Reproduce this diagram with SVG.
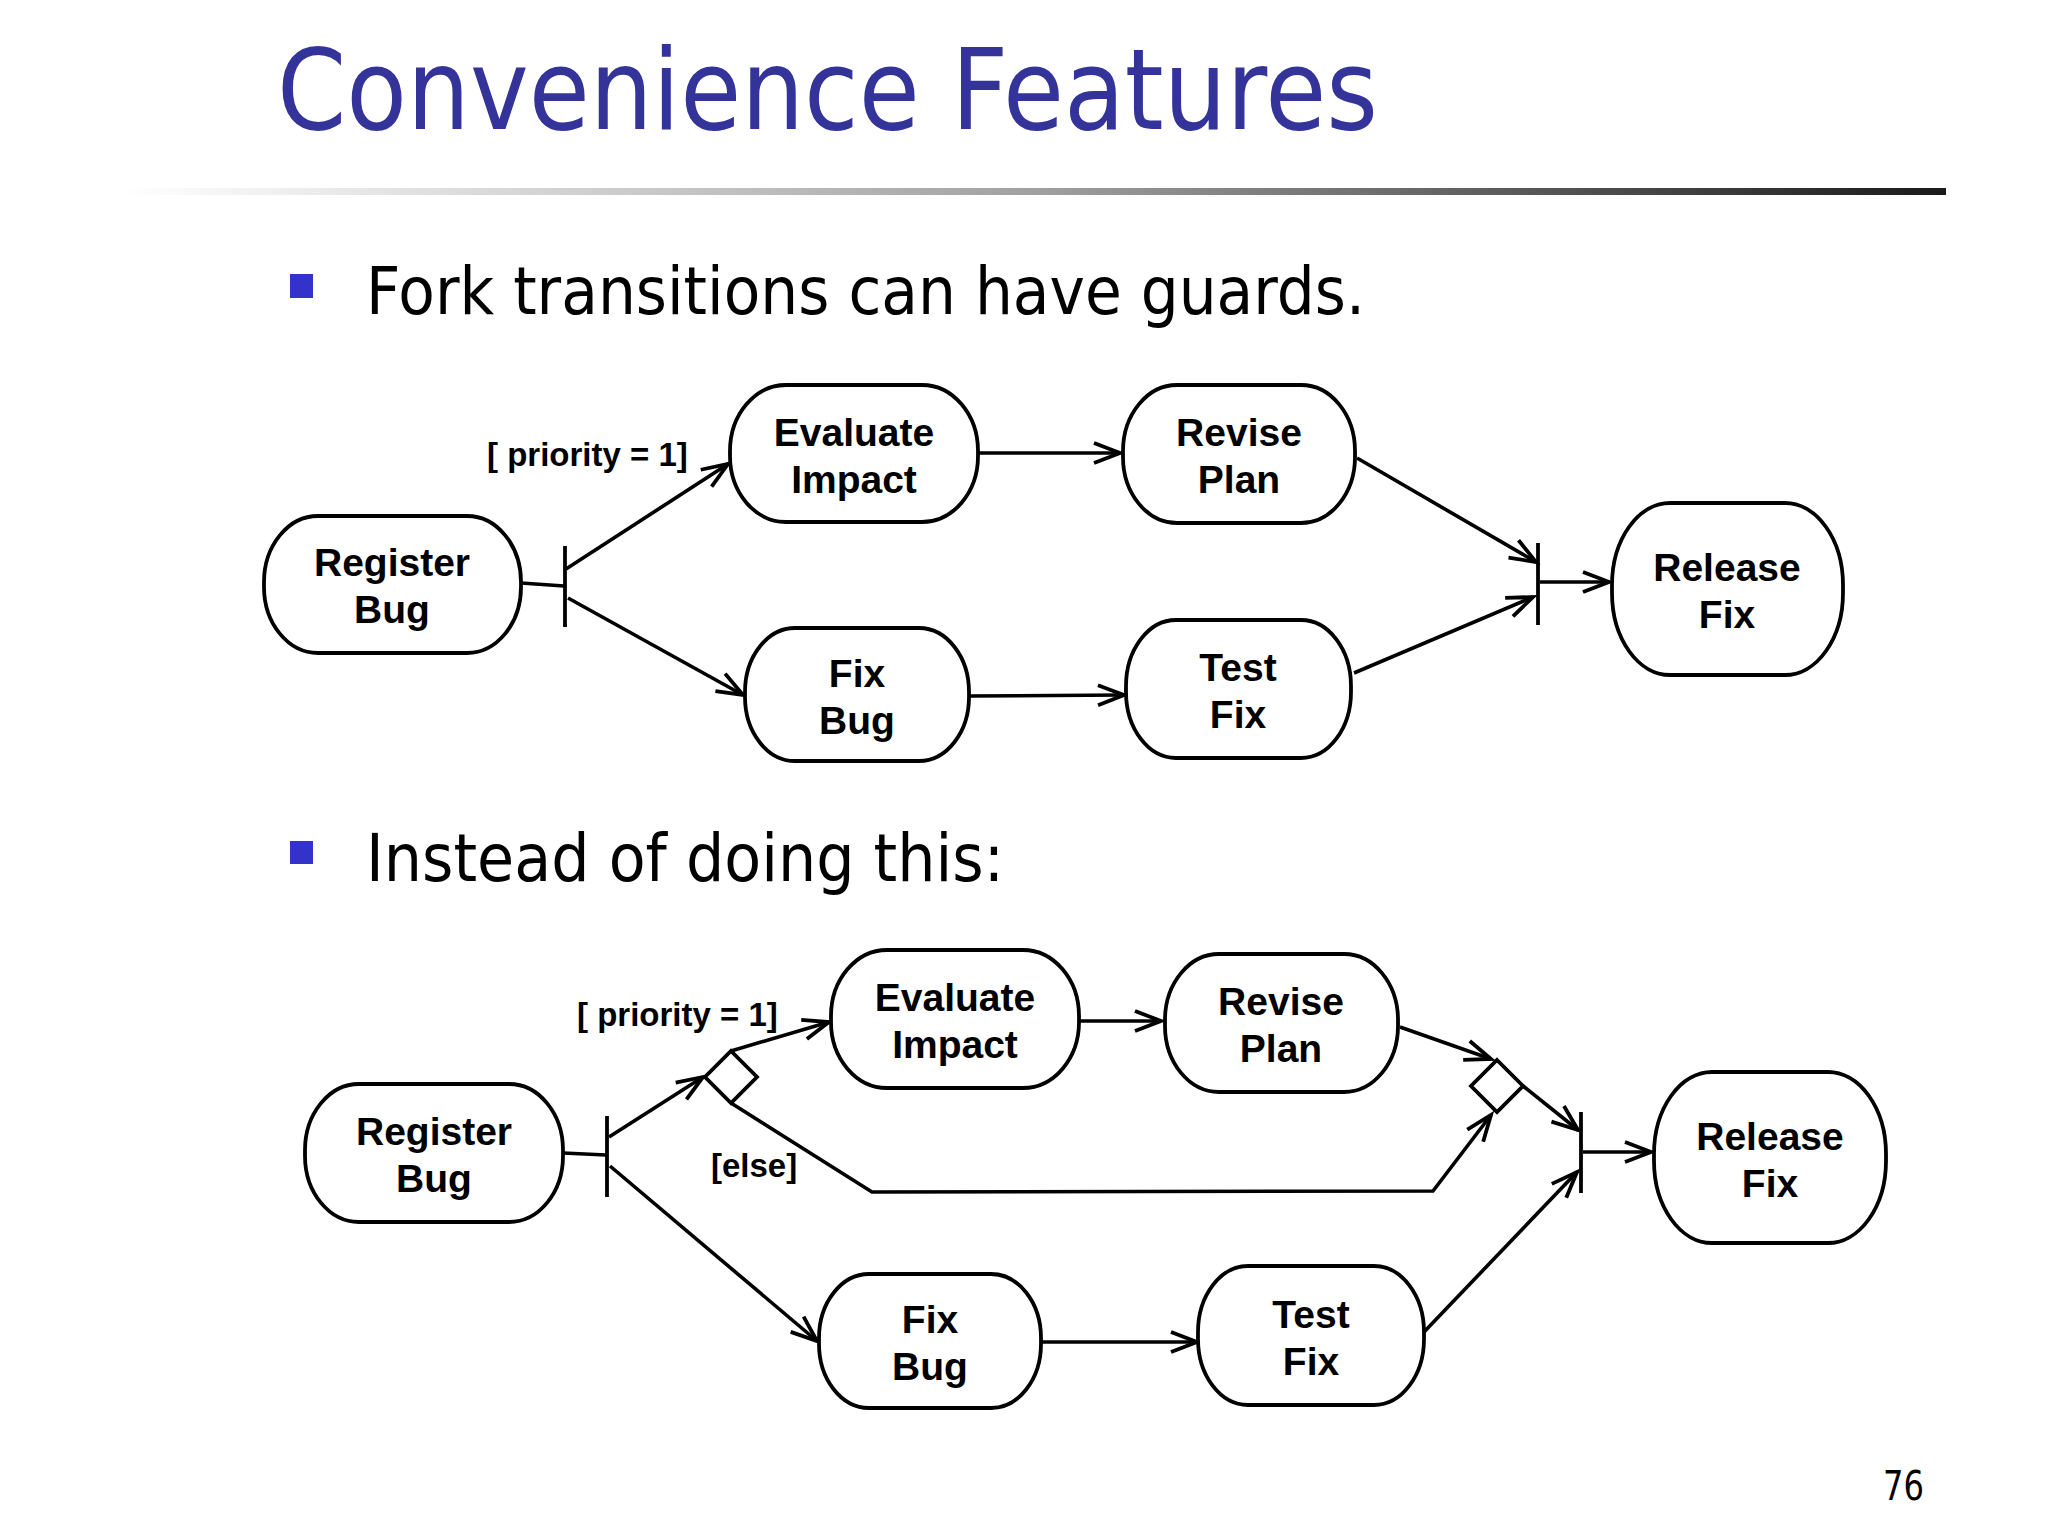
<svg xmlns="http://www.w3.org/2000/svg" width="2048" height="1536" viewBox="0 0 2048 1536">
<defs>
<linearGradient id="rule" x1="0" y1="0" x2="1" y2="0">
<stop offset="0" stop-color="#ffffff"/>
<stop offset="0.5" stop-color="#a0a0a0"/>
<stop offset="1" stop-color="#1a1a1a"/>
</linearGradient>
<marker id="arr" markerUnits="userSpaceOnUse" viewBox="-30 -15 36 30" refX="0" refY="0" markerWidth="36" markerHeight="30" orient="auto" overflow="visible">
<path d="M-26,-10 L0,0 L-26,10" fill="none" stroke="#000" stroke-width="3.8"/>
</marker>
<style>
.node{fill:#fff;stroke:#000;stroke-width:3.8}
.lbl{font-family:"Liberation Sans",Arial,sans-serif;font-weight:bold;font-size:39px;fill:#000;text-anchor:middle}
.guard{font-family:"Liberation Sans",Arial,sans-serif;font-weight:bold;font-size:33px;fill:#000}
.edge{fill:none;stroke:#000;stroke-width:3.6}
.arrow{marker-end:url(#arr)}
.bar{stroke:#000;stroke-width:3.8}
.dec{fill:#fff;stroke:#000;stroke-width:3.8}
.slide{font-family:"DejaVu Sans",Tahoma,Verdana,sans-serif}
</style>
</defs>
<rect width="2048" height="1536" fill="#fff"/>

<text class="slide" x="277" y="129" font-size="112" fill="#333399" textLength="1101" lengthAdjust="spacingAndGlyphs">Convenience Features</text>
<rect x="124" y="188" width="1822" height="7" fill="url(#rule)"/>

<rect x="290" y="274" width="23" height="24" fill="#3333cc"/>
<text class="slide" x="366" y="314" font-size="66" fill="#000" textLength="999" lengthAdjust="spacingAndGlyphs">Fork transitions can have guards.</text>

<rect x="290" y="841" width="23" height="23" fill="#3333cc"/>
<text class="slide" x="366" y="881" font-size="66" fill="#000" textLength="638" lengthAdjust="spacingAndGlyphs">Instead of doing this:</text>

<text class="slide" x="1883" y="1500" font-size="40" fill="#000" textLength="41" lengthAdjust="spacingAndGlyphs">76</text>

<!-- Diagram 1 -->
<g id="d1-connectors">
<line class="edge" x1="521" y1="583" x2="564" y2="586"/>
<line class="bar" x1="565" y1="546" x2="565" y2="627"/>
<line class="edge arrow" x1="566" y1="569" x2="728" y2="464"/>
<line class="edge arrow" x1="568" y1="598" x2="743" y2="695"/>
<line class="edge arrow" x1="979" y1="453" x2="1120" y2="453"/>
<line class="edge arrow" x1="970" y1="696" x2="1124" y2="695"/>
<line class="edge arrow" x1="1357" y1="458" x2="1536" y2="562"/>
<line class="edge arrow" x1="1354" y1="673" x2="1533" y2="597"/>
<line class="bar" x1="1538" y1="543" x2="1538" y2="625"/>
<line class="edge arrow" x1="1540" y1="582" x2="1609" y2="582"/>
<text class="guard" x="487" y="466">[ priority = 1]</text>
</g>
<g id="d1-register-bug">
<rect class="node" x="264" y="516" width="257" height="137" rx="54" ry="66"/>
<text class="lbl" x="392" y="576">Register</text>
<text class="lbl" x="392" y="623">Bug</text>
</g>
<g id="d1-evaluate-impact">
<rect class="node" x="730" y="385" width="248" height="137" rx="56" ry="66"/>
<text class="lbl" x="854" y="446">Evaluate</text>
<text class="lbl" x="854" y="493">Impact</text>
</g>
<g id="d1-revise-plan">
<rect class="node" x="1123" y="385" width="232" height="138" rx="54" ry="66"/>
<text class="lbl" x="1239" y="446">Revise</text>
<text class="lbl" x="1239" y="493">Plan</text>
</g>
<g id="d1-fix-bug">
<rect class="node" x="745" y="628" width="224" height="133" rx="50" ry="64"/>
<text class="lbl" x="857" y="687">Fix</text>
<text class="lbl" x="857" y="734">Bug</text>
</g>
<g id="d1-test-fix">
<rect class="node" x="1126" y="620" width="225" height="138" rx="50" ry="66"/>
<text class="lbl" x="1238" y="681">Test</text>
<text class="lbl" x="1238" y="728">Fix</text>
</g>
<g id="d1-release-fix">
<rect class="node" x="1612" y="503" width="231" height="172" rx="58" ry="82"/>
<text class="lbl" x="1727" y="581">Release</text>
<text class="lbl" x="1727" y="628">Fix</text>
</g>

<!-- Diagram 2 -->
<g id="d2-connectors">
<line class="edge" x1="563" y1="1153" x2="606" y2="1155"/>
<line class="bar" x1="607" y1="1116" x2="607" y2="1197"/>
<line class="edge arrow" x1="609" y1="1137" x2="703" y2="1077"/>
<line class="edge arrow" x1="731" y1="1051" x2="829" y2="1022"/>
<line class="edge arrow" x1="1080" y1="1021" x2="1161" y2="1021"/>
<polyline class="edge arrow" points="731,1103 872,1192 1433,1191 1491,1115"/>
<line class="edge arrow" x1="1400" y1="1027" x2="1491" y2="1059"/>
<line class="edge arrow" x1="1523" y1="1086" x2="1578" y2="1130"/>
<line class="bar" x1="1581" y1="1112" x2="1581" y2="1193"/>
<line class="edge arrow" x1="1424" y1="1332" x2="1577" y2="1172"/>
<line class="edge arrow" x1="1583" y1="1152" x2="1651" y2="1152"/>
<line class="edge arrow" x1="610" y1="1166" x2="817" y2="1341"/>
<line class="edge arrow" x1="1041" y1="1342" x2="1197" y2="1342"/>
<text class="guard" x="577" y="1026">[ priority = 1]</text>
<text class="guard" x="711" y="1177">[else]</text>
</g>
<g id="d2-decision-1">
<polygon class="dec" points="731,1051 757,1077 731,1103 705,1077"/>
</g>
<g id="d2-decision-2">
<polygon class="dec" points="1497,1060 1523,1086 1497,1112 1471,1086"/>
</g>
<g id="d2-register-bug">
<rect class="node" x="305" y="1084" width="258" height="138" rx="54" ry="66"/>
<text class="lbl" x="434" y="1145">Register</text>
<text class="lbl" x="434" y="1192">Bug</text>
</g>
<g id="d2-evaluate-impact">
<rect class="node" x="831" y="950" width="248" height="138" rx="56" ry="66"/>
<text class="lbl" x="955" y="1011">Evaluate</text>
<text class="lbl" x="955" y="1058">Impact</text>
</g>
<g id="d2-revise-plan">
<rect class="node" x="1165" y="954" width="233" height="138" rx="54" ry="66"/>
<text class="lbl" x="1281" y="1015">Revise</text>
<text class="lbl" x="1281" y="1062">Plan</text>
</g>
<g id="d2-fix-bug">
<rect class="node" x="819" y="1274" width="222" height="134" rx="50" ry="64"/>
<text class="lbl" x="930" y="1333">Fix</text>
<text class="lbl" x="930" y="1380">Bug</text>
</g>
<g id="d2-test-fix">
<rect class="node" x="1198" y="1266" width="226" height="139" rx="50" ry="66"/>
<text class="lbl" x="1311" y="1328">Test</text>
<text class="lbl" x="1311" y="1375">Fix</text>
</g>
<g id="d2-release-fix">
<rect class="node" x="1654" y="1072" width="232" height="171" rx="58" ry="82"/>
<text class="lbl" x="1770" y="1150">Release</text>
<text class="lbl" x="1770" y="1197">Fix</text>
</g>
</svg>
